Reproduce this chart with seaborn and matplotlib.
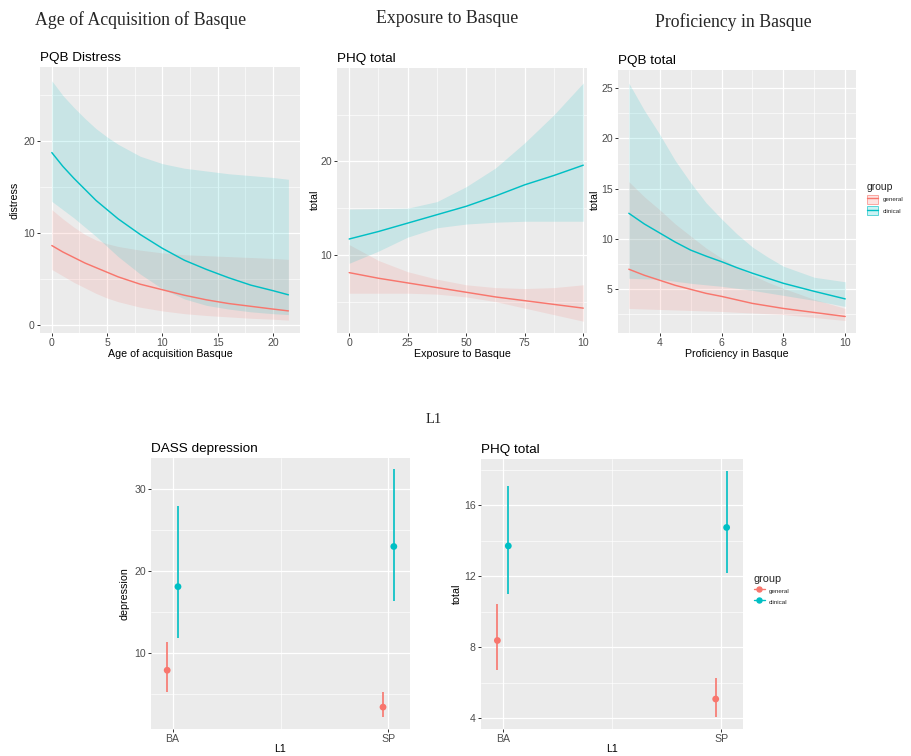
import numpy as np
import pandas as pd
import matplotlib
matplotlib.use("Agg")
import matplotlib.pyplot as plt
import seaborn as sns
from matplotlib.lines import Line2D
from matplotlib.patches import Patch
from matplotlib.colors import to_rgba
from matplotlib.ticker import MultipleLocator, FixedLocator

# ---------------------------------------------------------------
# values (model predictions + 95% CI)
# ---------------------------------------------------------------
groups = ["general", "clinical"]

# Age of acquisition of Basque -> PQB distress
aoa_x = [0, 1, 2, 3, 4, 5, 6, 8, 10, 12, 14, 16, 18, 20, 21.4]
aoa_general = [8.6, 7.9, 7.3, 6.7, 6.2, 5.7, 5.2, 4.4, 3.8, 3.2, 2.7, 2.3, 2.0, 1.7, 1.5]
aoa_general_lo = [6.0, 5.3, 4.6, 4.0, 3.4, 2.9, 2.5, 1.9, 1.5, 1.2, 1.0, 0.85, 0.7, 0.6, 0.5]
aoa_general_hi = [12.5, 11.5, 10.6, 9.8, 9.2, 8.8, 8.5, 8.1, 7.8, 7.6, 7.5, 7.4, 7.3, 7.2, 7.1]
aoa_clinical = [18.7, 17.2, 15.9, 14.7, 13.5, 12.5, 11.5, 9.8, 8.3, 7.0, 6.0, 5.1, 4.3, 3.7, 3.25]
aoa_clinical_lo = [13.4, 12.5, 11.6, 10.6, 9.6, 8.5, 7.4, 5.5, 3.9, 2.8, 2.1, 1.7, 1.4, 1.2, 1.1]
aoa_clinical_hi = [26.5, 24.9, 23.6, 22.4, 21.3, 20.4, 19.6, 18.3, 17.5, 17.0, 16.7, 16.4, 16.2, 16.0, 15.8]

# Exposure to Basque -> PHQ total
exp_x = [0, 12.5, 25, 37.5, 50, 62.5, 75, 87.5, 100]
exp_general = [8.1, 7.5, 7.0, 6.5, 6.0, 5.5, 5.1, 4.7, 4.3]
exp_general_lo = [5.9, 5.9, 5.9, 5.8, 5.5, 5.0, 4.3, 3.6, 2.9]
exp_general_hi = [11.1, 9.4, 8.2, 7.4, 6.8, 6.5, 6.4, 6.5, 6.8]
exp_clinical = [11.7, 12.5, 13.4, 14.3, 15.2, 16.3, 17.5, 18.5, 19.6]
exp_clinical_lo = [9.1, 10.4, 11.9, 12.9, 13.3, 13.5, 13.6, 13.6, 13.6]
exp_clinical_hi = [14.9, 14.95, 15.0, 15.7, 17.3, 19.3, 22.0, 25.0, 28.4]
exp_ticklabels = ["0", "25", "50", "75", "10"]

# Proficiency in Basque -> PQB total
prof_x = [3, 3.5, 4, 4.5, 5, 5.5, 6, 6.5, 7, 7.5, 8, 9, 10]
prof_general = [7.0, 6.4, 5.9, 5.4, 5.0, 4.6, 4.3, 3.95, 3.6, 3.35, 3.1, 2.7, 2.3]
prof_general_lo = [3.1, 3.05, 3.0, 2.95, 2.9, 2.85, 2.8, 2.72, 2.65, 2.58, 2.5, 2.2, 1.9]
prof_general_hi = [15.7, 14.2, 12.9, 11.5, 10.3, 9.1, 8.1, 7.2, 6.4, 5.7, 5.1, 4.0, 3.1]
prof_clinical = [12.56, 11.5, 10.6, 9.7, 8.9, 8.3, 7.75, 7.15, 6.6, 6.1, 5.6, 4.8, 4.05]
prof_clinical_lo = [6.1, 6.05, 6.0, 5.8, 5.6, 5.45, 5.3, 5.1, 4.9, 4.65, 4.4, 3.9, 3.3]
prof_clinical_hi = [25.5, 22.8, 20.4, 17.8, 15.6, 13.6, 12.0, 10.5, 9.2, 8.2, 7.3, 6.2, 5.75]

# L1 -> DASS depression / PHQ total
l1_levels = ["BA", "SP"]
dass_general = [7.9, 3.4]
dass_general_lo = [5.3, 2.2]
dass_general_hi = [11.3, 5.2]
dass_clinical = [18.1, 23.0]
dass_clinical_lo = [11.8, 16.4]
dass_clinical_hi = [28.0, 32.4]
phq_general = [8.37, 5.07]
phq_general_lo = [6.72, 4.06]
phq_general_hi = [10.44, 6.25]
phq_clinical = [13.7, 14.74]
phq_clinical_lo = [11.0, 12.17]
phq_clinical_hi = [17.05, 17.9]

palette = {"general": "#F8766D", "clinical": "#00BFC4"}

W, H = 912, 756

sns.set_theme(style="darkgrid")
plt.rcParams["font.family"] = ["Liberation Sans", "DejaVu Sans"]
SERIF = ["Liberation Serif", "DejaVu Serif"]


def fx(x):
    return x / W


def fy(y):
    return 1 - y / H


def box(x0, y0, x1, y1):
    return [fx(x0), fy(y1), (x1 - x0) / W, (y1 - y0) / H]


def style_axes(ax):
    ax.set_facecolor("#EBEBEB")
    for s in ax.spines.values():
        s.set_visible(False)
    ax.grid(which="major", color="white", linewidth=0.9)
    ax.grid(which="minor", color="white", linewidth=0.45)
    ax.tick_params(which="major", bottom=True, left=True, length=2.2, width=0.7,
                   color="#333333", labelsize=7.6, labelcolor="#4D4D4D", pad=1.5)
    ax.tick_params(which="minor", bottom=False, left=False, length=0)
    ax.set_axisbelow(True)


def label_axes(ax, title, xlabel, ylabel, xlab_pos, ylab_pos):
    ax.set_title(title, loc="left", fontsize=9.7, pad=4.5, color="black")
    ax.set_xlabel(xlabel, fontsize=7.7, va="center", color="black")
    ax.set_ylabel(ylabel, fontsize=7.7, va="center", color="black")
    ax.xaxis.set_label_coords(fx(xlab_pos[0]), fy(xlab_pos[1]), transform=fig.transFigure)
    ax.yaxis.set_label_coords(fx(ylab_pos[0]), fy(ylab_pos[1]), transform=fig.transFigure)


def draw_curves(ax, x, fits, los, his):
    df = pd.concat([pd.DataFrame({"x": x, "fit": f, "lo": l, "hi": h, "group": g})
                    for g, f, l, h in zip(groups, fits, los, his)], ignore_index=True)
    for g in groups:
        sub = df[df.group == g]
        ax.fill_between(sub.x, sub.lo, sub.hi, color=palette[g], alpha=0.15, linewidth=0)
    sns.lineplot(data=df, x="x", y="fit", hue="group", hue_order=groups, palette=palette,
                 linewidth=1.05, legend=False, errorbar=None, ax=ax,
                 solid_joinstyle="round")


def draw_points(ax, ests, los, his):
    rows = []
    for g, off, est, lo, hi in zip(groups, (-0.025, 0.025), ests, los, his):
        for i in range(len(l1_levels)):
            rows.append({"pos": i + off, "est": est[i], "lo": lo[i], "hi": hi[i], "group": g})
    df = pd.DataFrame(rows)
    ax.vlines(df.pos, df.lo, df.hi, colors=[palette[g] for g in df.group], linewidth=1.2)
    sns.scatterplot(data=df, x="pos", y="est", hue="group", hue_order=groups, palette=palette,
                    s=24, linewidth=0, legend=False, ax=ax, zorder=3)


fig = plt.figure(figsize=(W / 100, H / 100), dpi=100)
fig.patch.set_facecolor("white")

# ---- top row ----
ax1 = fig.add_axes(box(40, 67, 300, 333))
ax2 = fig.add_axes(box(337, 68, 587, 333))
ax3 = fig.add_axes(box(618, 70, 856, 333))

draw_curves(ax1, aoa_x, [aoa_general, aoa_clinical],
            [aoa_general_lo, aoa_clinical_lo], [aoa_general_hi, aoa_clinical_hi])
draw_curves(ax2, exp_x, [exp_general, exp_clinical],
            [exp_general_lo, exp_clinical_lo], [exp_general_hi, exp_clinical_hi])
draw_curves(ax3, prof_x, [prof_general, prof_clinical],
            [prof_general_lo, prof_clinical_lo], [prof_general_hi, prof_clinical_hi])

ax1.set_xlim(-1.07, 22.45)
ax1.set_ylim(-0.9, 28.0)
ax1.xaxis.set_major_locator(FixedLocator([0, 5, 10, 15, 20]))
ax1.xaxis.set_minor_locator(MultipleLocator(2.5))
ax1.yaxis.set_major_locator(FixedLocator([0, 10, 20]))
ax1.yaxis.set_minor_locator(FixedLocator([5, 15, 25]))

ax2.set_xlim(-5.2, 101.6)
ax2.set_ylim(1.64, 30.0)
ax2.set_xticks([0, 25, 50, 75, 100])
ax2.set_xticklabels(exp_ticklabels)
ax2.xaxis.set_minor_locator(MultipleLocator(12.5))
ax2.yaxis.set_major_locator(FixedLocator([10, 20]))
ax2.yaxis.set_minor_locator(FixedLocator([5, 15, 25]))

ax3.set_xlim(2.65, 10.35)
ax3.set_ylim(0.66, 26.8)
ax3.xaxis.set_major_locator(FixedLocator([4, 6, 8, 10]))
ax3.xaxis.set_minor_locator(FixedLocator([3, 5, 7, 9]))
ax3.yaxis.set_major_locator(FixedLocator([5, 10, 15, 20, 25]))
ax3.yaxis.set_minor_locator(MultipleLocator(2.5))

for ax in (ax1, ax2, ax3):
    style_axes(ax)

label_axes(ax1, "PQB Distress", "Age of acquisition Basque", "distress", (170, 354), (15, 200))
label_axes(ax2, "PHQ total", "Exposure to Basque", "total", (462, 354), (315, 200))
label_axes(ax3, "PQB total", "Proficiency in Basque", "total", (737, 354), (595, 200))

# ---- bottom row ----
ax4 = fig.add_axes(box(151, 458, 410, 729))
ax5 = fig.add_axes(box(481, 459, 743, 729))

draw_points(ax4, [dass_general, dass_clinical],
            [dass_general_lo, dass_clinical_lo], [dass_general_hi, dass_clinical_hi])
draw_points(ax5, [phq_general, phq_clinical],
            [phq_general_lo, phq_clinical_lo], [phq_general_hi, phq_clinical_hi])

for ax in (ax4, ax5):
    ax.set_xlim(-0.1, 1.1)
    ax.set_xticks(range(len(l1_levels)))
    ax.set_xticklabels(l1_levels)
    ax.xaxis.set_minor_locator(FixedLocator([0.5]))
    style_axes(ax)

ax4.set_ylim(0.73, 33.8)
ax4.yaxis.set_major_locator(FixedLocator([10, 20, 30]))
ax4.yaxis.set_minor_locator(FixedLocator([5, 15, 25]))
ax5.set_ylim(3.38, 18.6)
ax5.yaxis.set_major_locator(FixedLocator([4, 8, 12, 16]))
ax5.yaxis.set_minor_locator(FixedLocator([6, 10, 14, 18]))

label_axes(ax4, "DASS depression", "L1", "depression", (280, 749), (125, 594))
label_axes(ax5, "PHQ total", "L1", "total", (612, 749), (457, 594))

# ---- legends ----
ribbon_handles = [(Patch(facecolor=to_rgba(palette[g], 0.2), edgecolor=to_rgba(palette[g], 0.7),
                         linewidth=0.6),
                   Line2D([], [], color=palette[g], linewidth=1.0)) for g in groups]
fig.legend(ribbon_handles, groups, title="group", loc="upper left",
           bbox_to_anchor=(fx(867), fy(182)), frameon=False, fontsize=4.5,
           title_fontsize=7.5, handlelength=1.7, handleheight=1.8, labelspacing=0.45,
           handletextpad=0.8, borderpad=0, borderaxespad=0, alignment="left")

point_handles = [Line2D([], [], color=palette[g], marker="o", markersize=3.6, linewidth=1.0)
                 for g in groups]
fig.legend(point_handles, groups, title="group", loc="upper left",
           bbox_to_anchor=(fx(754), fy(574)), frameon=False, fontsize=4.5,
           title_fontsize=7.8, handlelength=1.7, handleheight=1.8, labelspacing=0.35,
           handletextpad=0.7, borderpad=0, borderaxespad=0, alignment="left")

# ---- section headings ----
fig.text(fx(35), fy(25), "Age of Acquisition of Basque", ha="left", va="baseline",
         family=SERIF, fontsize=12.8)
fig.text(fx(447.5), fy(23.3), "Exposure to Basque", ha="center", va="baseline",
         family=SERIF, fontsize=12.8)
fig.text(fx(733.5), fy(27.3), "Proficiency in Basque", ha="center", va="baseline",
         family=SERIF, fontsize=12.8)
fig.text(fx(434), fy(422.7), "L1", ha="center", va="baseline", family=SERIF, fontsize=10.5)

fig.savefig("out.png", dpi=100, facecolor="white")
